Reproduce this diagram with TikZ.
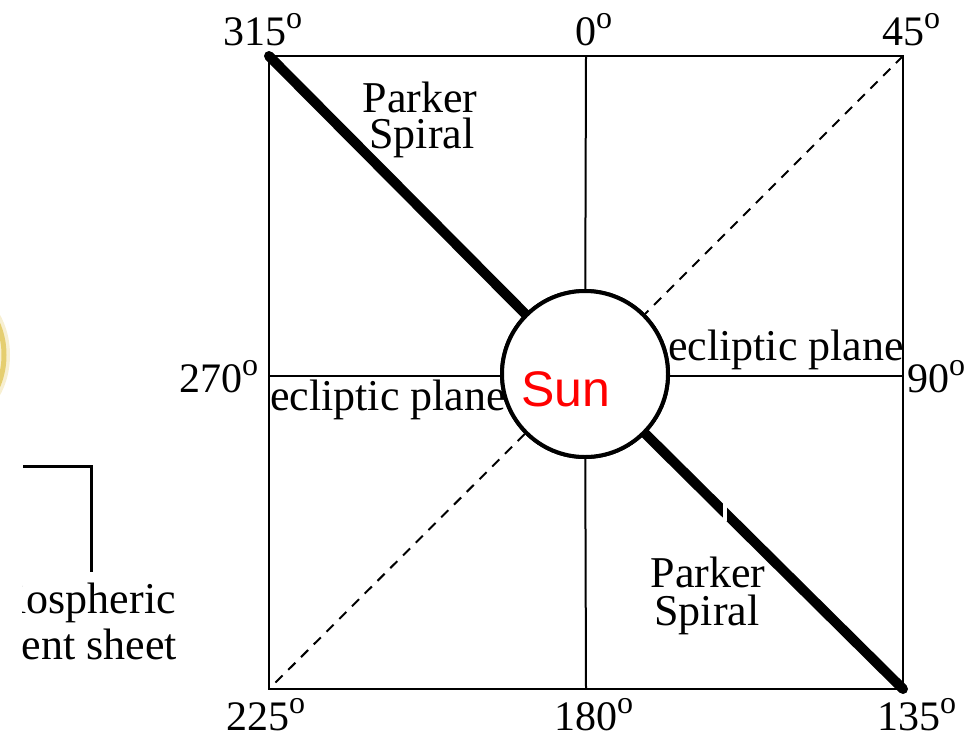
\documentclass[tikz,border=0pt]{standalone}
\usepackage{fontspec}
\setmainfont{Liberation Serif}
\newfontfamily\sunfont{Liberation Sans}
\newcommand{\degl}[1]{#1\raisebox{0.40em}{\fontsize{32}{32}\selectfont o}}
\definecolor{sunyellow}{RGB}{222,192,70}
\begin{document}
\begin{tikzpicture}[x=1pt,y=-1pt,
  lbl/.style={inner sep=0pt,anchor=base west,font=\fontsize{42}{46}\selectfont},
  txt/.style={inner sep=0pt,anchor=base,font=\fontsize{44}{48}\selectfont},
  thin/.style={line width=2pt,black},
  spiral/.style={line width=10pt,black,line cap=round},
  dashline/.style={line width=2pt,black,dash pattern=on 10pt off 8pt},
  sunbox/.style={circle,draw=black,fill=white,line width=4pt,minimum size=166pt,inner sep=0pt}]
\useasboundingbox (0,0) rectangle (979,737);
\clip (0,0) rectangle (979,737);
% yellow glow at left edge
\draw[sunyellow,line width=12pt,opacity=0.25] (-42,355) ellipse [x radius=46, y radius=62];
\draw[sunyellow,line width=5pt,opacity=0.7] (-42,355) ellipse [x radius=46, y radius=62];
% square
\coordinate (c315) at (269,56);
\coordinate (c45) at (903,56);
\coordinate (c135) at (903,689);
\coordinate (c225) at (269,689);
\coordinate (top0) at (586,56);
\coordinate (bot180) at (586,689);
\coordinate (left270) at (269,376);
\coordinate (right90) at (903,376);
\draw[thin] (c315) -- (c45) -- (c135) -- (c225) -- cycle;
\node[sunbox] (sun) at (585,374) {};
\draw[thin] (top0) -- (sun);
\draw[thin] (sun) -- (bot180);
\draw[thin] (left270) -- (sun.west |- left270);
\draw[thin] (sun.east |- right90) -- (right90);
\draw[dashline] (c45) -- (sun);
\draw[dashline] (sun) -- (c225);
\draw[spiral] (c315) -- (sun);
\draw[spiral] (sun) -- (c135);
\node[sunbox] (sunring) at (585,374) {};
\coordinate (tickA) at (725,500);
\coordinate (tickB) at (725,521);
\draw[white,line width=3.5pt] (tickA) -- (tickB);
% labels
\node[inner sep=0pt,anchor=base west,font=\sunfont\fontsize{50}{54}\selectfont,text=red] (suntxt) at (521,406) {Sun};
\node[lbl] (l315) at (223,45) {\degl{315}};
\node[lbl] (l0) at (575,45) {\degl{0}};
\node[lbl] (l45) at (882,45) {\degl{45}};
\node[lbl] (l270) at (179,392) {\degl{270}};
\node[lbl] (l90) at (907,392) {\degl{90}};
\node[lbl] (l225) at (226,730) {\degl{225}};
\node[lbl] (l180) at (554,730) {\degl{180}};
\node[lbl] (l135) at (877,730) {\degl{135}};
\node[txt] (psA1) at (420,112) {Parker};
\node[txt] (psA2) at (422,148) {Spiral};
\node[txt] (psB1) at (708,587) {Parker};
\node[txt] (psB2) at (707,625) {Spiral};
\node[txt,anchor=base west] (eclR) at (668,360) {ecliptic plane};
\node[txt,anchor=base west] (eclL) at (270,410) {ecliptic plane};
% partial bracket and cut text at left
\coordinate (brA) at (23,466);
\coordinate (brB) at (91,466);
\coordinate (brC) at (91,572);
\draw[line width=3pt] (brA) -- (brB) -- (brC);
\begin{scope}
\clip (22,560) rectangle (300,700);
\node[txt,anchor=base east] (hcs1) at (176,613) {Heliospheric};
\node[txt,anchor=base east] (hcs2) at (177,659) {current sheet};
\end{scope}
\end{tikzpicture}
\end{document}
